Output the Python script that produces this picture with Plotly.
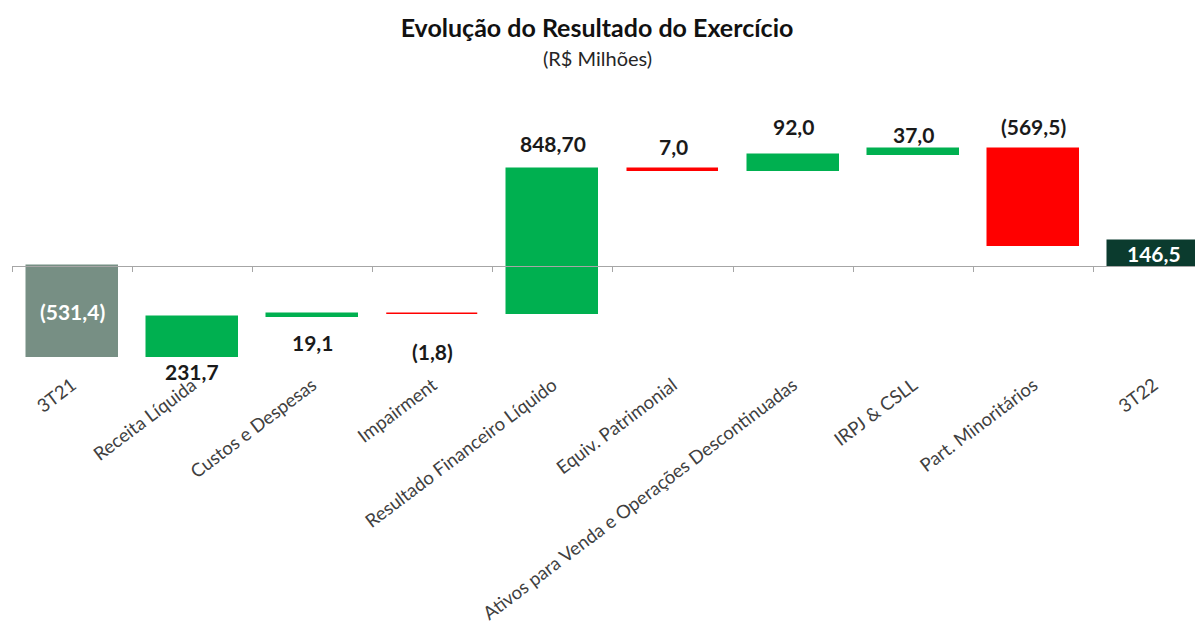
import plotly.graph_objects as go

# ---------------- data ----------------
categories = ["3T21", "Receita Líquida", "Custos e Despesas", "Impairment",
              "Resultado Financeiro Líquido", "Equiv. Patrimonial",
              "Ativos para Venda e Operações Descontinuadas", "IRPJ & CSLL",
              "Part. Minoritários", "3T22"]
values = [-531.4, 231.7, 19.1, -1.8, 848.7, -7.0, 92.0, 37.0, -569.5, 146.5]
measures = ["start", "relative", "relative", "relative", "relative", "relative",
            "relative", "relative", "relative", "total"]
value_labels = ["(531,4)", "231,7", "19,1", "(1,8)", "848,70", "7,0", "92,0",
                "37,0", "(569,5)", "146,5"]

# ---------------- styling ----------------
FONT = "Lato"
GREEN = "#00B050"
RED = "#FF0000"
START_COLOR = "#778F84"
TOTAL_COLOR = "#0B3B2E"
AXIS_COLOR = "#A6A6A6"
label_mode = ["inside", "below", "below", "below", "above", "above", "above",
              "above", "above", "inside"]
label_gap = [0, 0, 11, 23, 11, 8, 14, 0, 8, 0]

# page body has an 8px margin: compensate so the figure lands at the target spot
OFF = 8
W, H = 1203 - OFF, 631 - OFF

# waterfall geometry from the data
bases, heights, colors = [], [], []
running = 0.0
for v, m in zip(values, measures):
    if m in ("start", "total"):
        bases.append(0.0)
        heights.append(v)
        running = v
        colors.append(START_COLOR if m == "start" else TOTAL_COLOR)
    else:
        bases.append(running)
        heights.append(v)
        running += v
        colors.append(GREEN if v >= 0 else RED)

fig = go.Figure()
fig.add_trace(go.Bar(
    x=categories, y=heights, base=bases,
    marker=dict(color=colors, line=dict(color=colors, width=1.5)),
    width=0.757, hoverinfo="skip", showlegend=False,
))
# helper trace for the zero axis with boundary ticks
fig.add_trace(go.Scatter(
    x=categories, y=[0] * len(categories), xaxis="x2", mode="markers",
    marker=dict(opacity=0), hoverinfo="skip", showlegend=False,
))

annotations = []
for i, (c, b, h, txt, mode) in enumerate(zip(categories, bases, heights,
                                              value_labels, label_mode)):
    lo, hi = min(b, b + h), max(b, b + h)
    if mode == "inside":
        annotations.append(dict(x=c, y=(lo + hi) / 2, text=f"<b>{txt}</b>",
                                showarrow=False, xanchor="center", yanchor="middle",
                                font=dict(family=FONT, size=21, color="white")))
    elif mode == "below":
        annotations.append(dict(x=c, y=lo, text=f"<b>{txt}</b>", showarrow=False,
                                xanchor="center", yanchor="top", yshift=-label_gap[i],
                                font=dict(family=FONT, size=21, color="#1a1a1a")))
    else:
        annotations.append(dict(x=c, y=hi, text=f"<b>{txt}</b>", showarrow=False,
                                xanchor="center", yanchor="bottom", yshift=label_gap[i],
                                font=dict(family=FONT, size=21, color="#1a1a1a")))

YMIN, YMAX = -609, 1031
zero_pos = (0 - YMIN) / (YMAX - YMIN)

TOP, BOTTOM = 90 - OFF, 370 - OFF
plot_h = BOTTOM - TOP

annotations.append(dict(xref="paper", yref="paper", x=(597 - 12) / (W - 4),
                        y=(BOTTOM - (58 - OFF)) / plot_h,
                        text="(R$ Milhões)", showarrow=False,
                        xanchor="center", yanchor="middle",
                        font=dict(family=FONT, size=20, color="#262626")))

fig.update_layout(
    width=W, height=H,
    margin=dict(l=12 - OFF, r=0, t=TOP, b=H - BOTTOM, autoexpand=False),
    paper_bgcolor="white", plot_bgcolor="white",
    title=dict(text="<b>Evolução do Resultado do Exercício</b>",
               x=(597 - OFF) / W, xanchor="center", xref="container",
               y=1 - (28 - OFF) / H, yanchor="middle", yref="container",
               font=dict(family=FONT, size=25, color="#111111")),
    xaxis=dict(type="category", range=[-0.5, 9.41], showgrid=False,
               showline=False, ticks="", tickangle=-37, automargin=False,
               tickfont=dict(family=FONT, size=18.5, color="#404040"),
               zeroline=False),
    xaxis2=dict(type="category", overlaying="x", matches="x", anchor="free",
                position=zero_pos, side="bottom", showline=True,
                linecolor=AXIS_COLOR, linewidth=1, ticks="outside",
                tickson="boundaries", ticklen=5, tickcolor=AXIS_COLOR,
                showticklabels=False, showgrid=False, automargin=False),
    yaxis=dict(range=[YMIN, YMAX], visible=False, showgrid=False, zeroline=False),
    annotations=annotations,
    bargap=0,
)

fig.write_html("out.html")
